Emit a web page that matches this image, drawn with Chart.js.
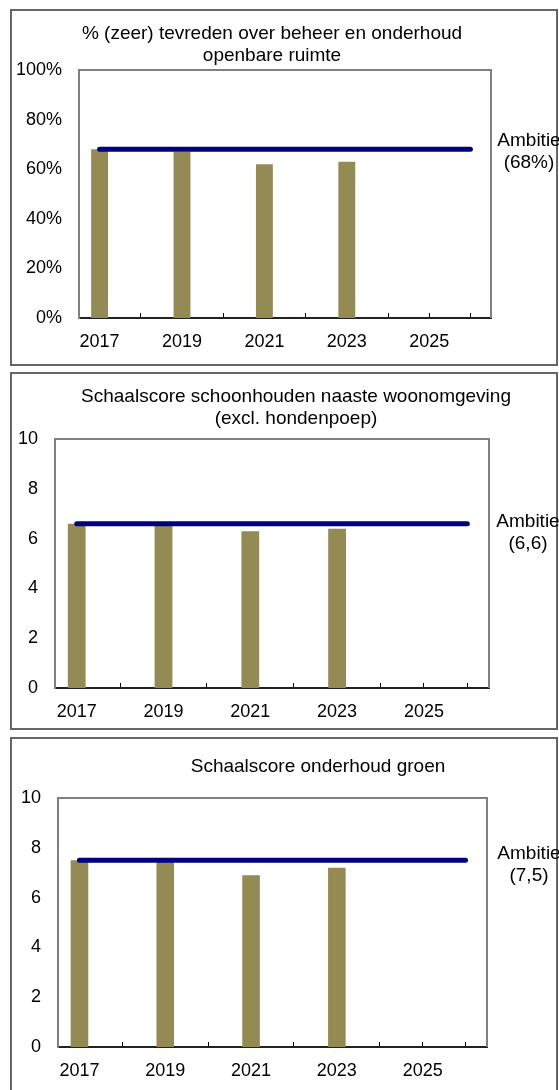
<!DOCTYPE html>
<html>
<head>
<meta charset="utf-8">
<script src="https://cdn.jsdelivr.net/npm/chart.js@4.4.1/dist/chart.umd.min.js"></script>
<style>
  html, body { margin: 0; padding: 0; background: #fff; }
  body { width: 559px; height: 1090px; position: relative; overflow: hidden;
         font-family: 'Liberation Sans', Arial, sans-serif; font-size: 19px; color: #000; }
  .box { position: absolute; left: 10px; width: 548px; border: 2px solid #666; box-sizing: border-box; }
  canvas { position: absolute; left: 0; }
  .title { position: absolute; width: 460px; text-align: center; line-height: 22px; white-space: nowrap; }
  .amb { position: absolute; width: 90px; text-align: center; line-height: 22px; white-space: nowrap; }
</style>
</head>
<body>

<div class="box" style="top:9px;height:357px"></div>
<div class="box" style="top:372px;height:358px"></div>
<div class="box" style="top:737px;height:380px"></div>

<canvas id="chart1" width="559" height="357" style="top:9px"></canvas>
<canvas id="chart2" width="559" height="358" style="top:372px"></canvas>
<canvas id="chart3" width="559" height="353" style="top:737px"></canvas>

<div class="title" id="title1" style="left:42px;top:22px"></div>
<div class="title" id="title2" style="left:66px;top:385px"></div>
<div class="title" id="title3" style="left:88px;top:755px"></div>

<div class="amb" id="amb1" style="left:484px;top:129px"></div>
<div class="amb" id="amb2" style="left:483px;top:510px"></div>
<div class="amb" id="amb3" style="left:484px;top:842px"></div>

<script>
// jaren op de x-as, alleen de oneven jaren krijgen een label
var years = ['2017', '2018', '2019', '2020', '2021', '2022', '2023', '2024', '2025', '2026'];
var shownYears = ['2017', '2019', '2021', '2023', '2025'];

// % (zeer) tevreden over beheer en onderhoud openbare ruimte
var tevreden = [68, null, 67, null, 62, null, 63, null, null, null];
var ambitieTevreden = [68, 68, 68, 68, 68, 68, 68, 68, 68, 68];

// schaalscore schoonhouden naaste woonomgeving
var schoon = [6.6, null, 6.6, null, 6.3, null, 6.4, null, null, null];
var ambitieSchoon = [6.6, 6.6, 6.6, 6.6, 6.6, 6.6, 6.6, 6.6, 6.6, 6.6];

// schaalscore onderhoud groen
var groen = [7.5, null, 7.5, null, 6.9, null, 7.2, null, null, null];
var ambitieGroen = [7.5, 7.5, 7.5, 7.5, 7.5, 7.5, 7.5, 7.5, 7.5, 7.5];

var titles = [
  ['% (zeer) tevreden over beheer en onderhoud', 'openbare ruimte'],
  ['Schaalscore schoonhouden naaste woonomgeving', '(excl. hondenpoep)'],
  ['Schaalscore onderhoud groen']
];

Chart.defaults.font.family = "'Liberation Sans', Arial, sans-serif";
Chart.defaults.font.size = 18;
Chart.defaults.color = '#000';

var framePlugin = {
  id: 'frame',
  beforeDatasetsDraw: function (chart) {
    var a = chart.chartArea;
    var ctx = chart.ctx;
    ctx.save();
    ctx.strokeStyle = '#808080';
    ctx.lineWidth = 2;
    ctx.beginPath();
    ctx.moveTo(a.left, a.bottom);
    ctx.lineTo(a.left, a.top);
    ctx.lineTo(a.right, a.top);
    ctx.lineTo(a.right, a.bottom);
    ctx.stroke();
    ctx.restore();
  }
};

function makeChart(id, p, values, ambitie, yMax, pct)
{
  return new Chart(document.getElementById(id), {
    type: 'bar',
    data: {
      labels: years,
      datasets: [
        {
          type: 'line',
          data: ambitie,
          borderColor: '#000080',
          borderWidth: 5,
          borderCapStyle: 'round',
          pointRadius: 0,
          fill: false,
          order: 1
        },
        {
          data: values,
          backgroundColor: '#948A54',
          barPercentage: 0.41,
          categoryPercentage: 1,
          order: 2
        }
      ]
    },
    options: {
      responsive: false,
      animation: false,
      devicePixelRatio: 1,
      layout: { padding: { left: 0, right: 559 - p.right, top: p.top, bottom: p.bottom } },
      plugins: { legend: { display: false }, tooltip: { enabled: false }, title: { display: false } },
      scales: {
        x: {
          offset: true,
          grid: { display: true, drawOnChartArea: false, offset: false, drawTicks: true, tickLength: -5, color: '#000', lineWidth: 1 },
          border: { display: true, color: '#222', width: 2 },
          ticks: {
            autoSkip: false, maxRotation: 0, padding: 18,
            callback: function (v, i) { return shownYears.indexOf(years[i]) >= 0 ? years[i] : ''; }
          },
          afterFit: function (s) { s.height = 40; }
        },
        y: {
          min: 0,
          max: yMax,
          grid: { display: false, drawTicks: false },
          border: { display: true, color: '#808080', width: 2 },
          ticks: {
            stepSize: yMax / 5, padding: 17,
            callback: function (v) { return pct ? v + '%' : v; }
          },
          afterFit: function (s) { s.width = p.left; }
        }
      }
    },
    plugins: [framePlugin]
  });
}

makeChart('chart1', { left: 79, right: 491, top: 61, bottom: 8 }, tevreden, ambitieTevreden, 100, true);
makeChart('chart2', { left: 55, right: 489, top: 67, bottom: 2 }, schoon, ambitieSchoon, 10, false);
makeChart('chart3', { left: 58, right: 487, top: 61, bottom: 3 }, groen, ambitieGroen, 10, false);

function fmt(v, pct) { return '(' + String(v).replace('.', ',') + (pct ? '%' : '') + ')'; }

document.getElementById('title1').innerHTML = titles[0].join('<br>');
document.getElementById('title2').innerHTML = titles[1].join('<br>');
document.getElementById('title3').innerHTML = titles[2].join('<br>');
document.getElementById('amb1').innerHTML = 'Ambitie<br>' + fmt(ambitieTevreden[0], true);
document.getElementById('amb2').innerHTML = 'Ambitie<br>' + fmt(ambitieSchoon[0], false);
document.getElementById('amb3').innerHTML = 'Ambitie<br>' + fmt(ambitieGroen[0], false);
</script>
</body>
</html>
